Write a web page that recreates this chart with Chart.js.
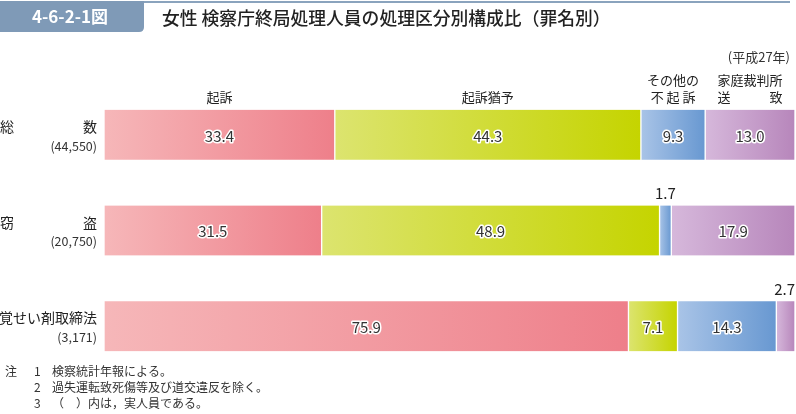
<!DOCTYPE html>
<html>
<head>
<meta charset="utf-8">
<script src="https://cdn.jsdelivr.net/npm/chart.js@4"></script>
<style>
  html, body { margin: 0; padding: 0; background: #fff; }
  #wrap { position: relative; width: 796px; height: 414px; }
</style>
</head>
<body>
<div id="wrap"><canvas id="c" width="796" height="414"></canvas></div>
<script>
// ===== DATA =====
const categories = ['総数', '窃盗', '覚せい剤取締法'];
const counts = ['(44,550)', '(20,750)', '(3,171)'];
const kiso = [33.4, 31.5, 75.9];        // 起訴
const yuyo = [44.3, 48.9, 7.1];         // 起訴猶予
const sonota = [9.3, 1.7, 14.3];        // その他の不起訴
const katei = [13.0, 17.9, 2.7];        // 家庭裁判所送致
const seriesNames = ['起訴', '起訴猶予', 'その他の不起訴', '家庭裁判所送致'];
const headerLines = [['起訴'], ['起訴猶予'], ['その他の', '不 起 訴'], ['家庭裁判所', '送　　　致']];

const FONT = '"Noto Sans CJK JP", "Noto Sans", sans-serif';
const gradColors = [
  ['#f6b7b9', '#ee7f8a'],
  ['#dce46f', '#c5d400'],
  ['#a9c4e7', '#6898d1'],
  ['#d6b8db', '#b786bb']
];
const allSeries = [kiso, yuyo, sonota, katei];

// per-segment left->right gradient
function segFill(ctx) {
  const chart = ctx.chart;
  const ds = ctx.datasetIndex;
  const cols = gradColors[ds];
  if (ctx.type !== 'data' || !chart.chartArea) return cols[1];
  const i = ctx.dataIndex;
  let start = 0;
  for (let k = 0; k < ds; k++) start += allSeries[k][i];
  const end = start + allSeries[ds][i];
  const x = chart.scales.x;
  const x0 = x.getPixelForValue(start), x1 = x.getPixelForValue(end);
  const g = chart.ctx.createLinearGradient(x0, 0, x1, 0);
  g.addColorStop(0, cols[0]);
  g.addColorStop(1, cols[1]);
  return g;
}

// ===== DECORATIONS: title, category labels, headers, values, notes =====
const decor = {
  id: 'decor',
  beforeDraw(chart) {
    const c = chart.ctx;
    c.save();
    // title banner
    c.fillStyle = '#8aa3bd';
    c.fillRect(144, 1, 646, 2);
    c.beginPath();
    c.moveTo(0, 1); c.lineTo(144, 1); c.lineTo(144, 27);
    c.quadraticCurveTo(144, 32, 139, 32); c.lineTo(0, 32); c.closePath();
    c.fillStyle = '#7f9ab7';
    c.fill();
    c.fillStyle = '#fff';
    c.font = 'bold 17px ' + FONT;
    c.textAlign = 'center'; c.textBaseline = 'middle';
    c.fillText('4-6-2-1図', 70, 17);
    c.fillStyle = '#222';
    c.font = '500 17.8px ' + FONT;
    c.textAlign = 'left';
    c.fillText('女性 検察庁終局処理人員の処理区分別構成比（罪名別）', 162, 18);
    // year
    c.fillStyle = '#333';
    c.font = '13px ' + FONT;
    c.textAlign = 'right';
    c.fillText('(平成27年)', 790, 57);
    // notes
    c.font = '12px ' + FONT;
    c.textAlign = 'left';
    c.fillText('注', 5, 371);
    const notes = ['検察統計年報による。', '過失運転致死傷等及び道交違反を除く。', '（　）内は，実人員である。'];
    notes.forEach((t, k) => {
      c.fillText(String(k + 1), 34, 371 + k * 16);
      c.fillText(t, 52, 371 + k * 16);
    });
    c.restore();
  },
  afterDatasetsDraw(chart) {
    const c = chart.ctx;
    const y = chart.scales.y;
    c.save();
    c.textBaseline = 'middle';
    // category labels
    categories.forEach((name, i) => {
      const cy = y.getPixelForValue(i);
      c.fillStyle = '#222';
      c.font = '14px ' + FONT;
      if (name.length === 2) {
        c.textAlign = 'left'; c.fillText(name[0], 0, cy - 8);
        c.textAlign = 'right'; c.fillText(name[1], 97, cy - 8);
      } else {
        c.textAlign = 'right'; c.fillText(name, 97, cy - 8);
      }
      c.fillStyle = '#333';
      c.font = '12.5px ' + FONT;
      c.textAlign = 'right';
      c.fillText(counts[i], 97, cy + 11);
    });
    // headers over the first bar
    c.font = '13px ' + FONT;
    c.fillStyle = '#222';
    c.textAlign = 'center';
    headerLines.forEach((lines, ds) => {
      const el = chart.getDatasetMeta(ds).data[0];
      const cx = (el.x + el.base) / 2;
      const top = el.y - el.height / 2;
      lines.forEach((t, k) => {
        c.fillText(t, cx, top - 13 - (lines.length - 1 - k) * 17);
      });
    });
    // values
    chart.data.datasets.forEach((d, ds) => {
      chart.getDatasetMeta(ds).data.forEach((el, i) => {
        const v = d.data[i];
        const txt = v.toFixed(1);
        const cx = (el.x + el.base) / 2;
        c.textAlign = 'center';
        c.font = '15px ' + FONT;
        if (v < 5) {
          c.fillStyle = '#222';
          c.fillText(txt, Math.min(cx, 795 - c.measureText(txt).width / 2), el.y - el.height / 2 - 12);
        } else {
          c.lineJoin = 'round';
          c.lineWidth = 3;
          c.strokeStyle = '#fff';
          c.strokeText(txt, cx, el.y + 1);
          c.fillStyle = '#333';
          c.fillText(txt, cx, el.y + 1);
        }
      });
    });
    c.restore();
  }
};

const datasets = allSeries.map((arr, k) => ({
  label: seriesNames[k],
  data: arr,
  backgroundColor: segFill,
  borderColor: '#fff',
  borderWidth: { left: 1, right: 1, top: 0, bottom: 0 },
  borderSkipped: false,
  barThickness: 50
}));

new Chart(document.getElementById('c'), {
  type: 'bar',
  data: { labels: categories, datasets },
  options: {
    indexAxis: 'y',
    responsive: false,
    animation: false,
    layout: { padding: { left: 104, right: 1, top: 87, bottom: 40 } },
    plugins: { legend: { display: false }, tooltip: { enabled: false } },
    scales: {
      x: { stacked: true, min: 0, max: 100, display: false },
      y: { stacked: true, display: false }
    }
  },
  plugins: [decor]
});
</script>
</body>
</html>
